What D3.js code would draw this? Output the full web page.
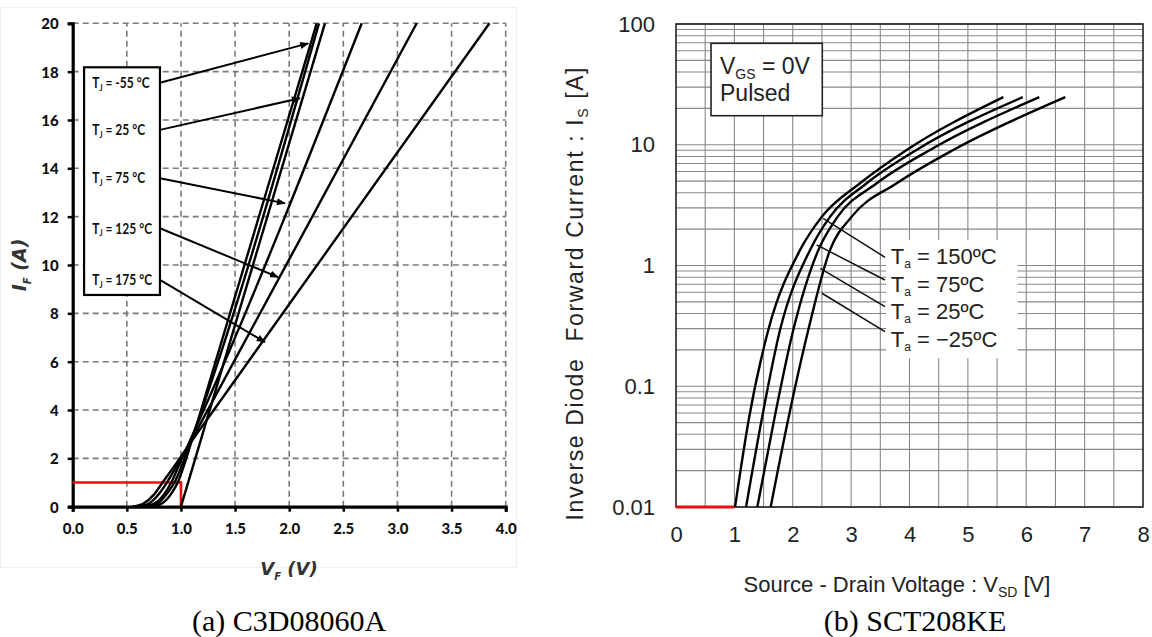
<!DOCTYPE html>
<html>
<head>
<meta charset="utf-8">
<script src="https://cdn.jsdelivr.net/npm/d3@7"></script>
<style>
  body { margin: 0; background: #fff; }
  svg { display: block; }
</style>
</head>
<body>
<svg id="chart" width="1152" height="637"></svg>
<script>
// ---- (a) C3D08060A : forward characteristics, linear axes ----
var vfTicks = [0.0, 0.5, 1.0, 1.5, 2.0, 2.5, 3.0, 3.5, 4.0];
var ifTicks = [0, 2, 4, 6, 8, 10, 12, 14, 16, 18, 20];
var tjLabels = ["-55", "25", "75", "125", "175"];

// [V, A]
var curveTjN55 = [[0.72, 0], [0.82, 0.12], [0.92, 0.6], [0.97, 1.0], [1.02, 1.6], [1.07, 2.3], [1.20, 4.2], [2.254, 20]];
var curveTj25  = [[0.68, 0], [0.78, 0.12], [0.88, 0.6], [0.94, 1.0], [1.00, 1.6], [1.05, 2.2], [1.20, 4.1], [2.275, 20]];
var curveTj75  = [[0.65, 0], [0.75, 0.12], [0.85, 0.55], [0.91, 1.0], [1.00, 1.9], [1.05, 2.4], [1.20, 3.9], [2.67, 20]];
var curveTj125 = [[0.60, 0], [0.70, 0.12], [0.80, 0.55], [0.87, 1.0], [0.95, 1.6], [1.05, 2.35], [1.20, 3.6], [3.178, 20]];
var curveTj175 = [[0.55, 0], [0.65, 0.12], [0.75, 0.5], [0.83, 1.0], [0.95, 1.75], [1.05, 2.4], [1.20, 3.35], [3.85, 20]];
var lineFit    = [[1.00, 0], [2.33, 20]];

// label arrows [fromV, fromA, toV, toA]
var tjArrows = [[0.806, 17.54, 2.176, 19.17], [0.806, 15.59, 2.099, 16.90], [0.806, 13.59, 1.961, 12.55],
                [0.806, 11.52, 1.897, 9.50], [0.806, 9.38, 1.776, 6.81]];
var redMarkA = [[0, 1], [1.0, 1], [1.0, 0]];

// ---- (b) SCT208KE : inverse diode, log current ----
var vsdTicks = [0, 1, 2, 3, 4, 5, 6, 7, 8];
var isTicks = [0.01, 0.1, 1, 10, 100];
var taLabels = ["150", "75", "25", "\u221225"];
var taLabelAt = [1.18, 0.690, 0.414, 0.2415];   // current level of each label line

var curveTa150 = [[1.011, 0.01], [1.251, 0.0546], [1.581, 0.292], [2.124, 1.34], [2.50, 2.54], [3.152, 4.80], [3.952, 9.06], [5.607, 24.8]];
var curveTa75  = [[1.200, 0.01], [1.473, 0.0546], [1.782, 0.292], [2.295, 1.34], [2.64, 2.54], [3.267, 4.80], [4.120, 9.06], [5.940, 24.8]];
var curveTa25  = [[1.393, 0.01], [1.687, 0.0546], [2.009, 0.292], [2.438, 1.34], [2.77, 2.54], [3.438, 4.80], [4.351, 9.06], [6.224, 24.8]];
var curveTaN25 = [[1.622, 0.01], [1.927, 0.0546], [2.266, 0.292], [2.638, 1.34], [3.01, 2.54], [3.781, 4.80], [4.750, 9.06], [6.669, 24.8]];

// leader lines [fromV, fromA, toV, toA]
var taLeaders = [[2.52, 2.46, 3.58, 1.17], [2.41, 1.48, 3.58, 0.759], [2.47, 0.948, 3.58, 0.456], [2.50, 0.589, 3.58, 0.283]];
var redMarkB = [[0, 0.01], [1.0, 0.01]];

var svg = d3.select("#chart");

drawLeft();
drawRight();

function drawLeft() {
  var x = d3.scaleLinear().domain([0, 4]).range([72.7, 505.7]);
  var y = d3.scaleLinear().domain([0, 20]).range([506.7, 23.3]);
  var g = svg.append("g").attr("class", "left");
  var font = "Lato, 'DejaVu Sans', sans-serif";

  // faint panel frame
  g.append("rect")
   .attr("x", 0.5).attr("y", 7.5).attr("width", 516).attr("height", 560)
   .style("fill", "none").style("stroke", "#eeeeee");

  // dashed grid
  g.selectAll(".vgrid")
   .data(vfTicks.slice(1))
   .enter().append("line")
   .attr("x1", function(d) { return x(d); }).attr("x2", function(d) { return x(d); })
   .attr("y1", y(0)).attr("y2", y(20))
   .style("stroke", "#7a7a7a").style("stroke-width", 1.6).style("stroke-dasharray", "6,4");
  g.selectAll(".hgrid")
   .data(ifTicks.slice(1))
   .enter().append("line")
   .attr("x1", x(0)).attr("x2", x(4))
   .attr("y1", function(d) { return y(d); }).attr("y2", function(d) { return y(d); })
   .style("stroke", "#7a7a7a").style("stroke-width", 1.6).style("stroke-dasharray", "6,4");

  // axes
  var xAxis = d3.axisBottom(x).tickValues(vfTicks).tickFormat(d3.format(".1f")).tickSize(5).tickPadding(12);
  var yAxis = d3.axisLeft(y).tickValues(ifTicks).tickSize(5).tickPadding(9);

  var ax = g.append("g").attr("transform", "translate(0," + y(0) + ")").call(xAxis);
  var ay = g.append("g").attr("transform", "translate(" + x(0) + ",0)").call(yAxis);
  [ax, ay].forEach(function(a) {
    a.select(".domain").style("stroke", "#000").style("stroke-width", 3.2);
    a.selectAll(".tick line").style("stroke", "#000").style("stroke-width", 2.5);
    a.selectAll(".tick text")
     .style("font-family", font)
     .style("font-weight", "900").style("font-size", "15px").style("fill", "#111");
  });
  ay.selectAll(".tick text").attr("dy", "0.36em");

  // red annotation
  g.append("path")
   .attr("d", d3.line().x(function(d) { return x(d[0]); }).y(function(d) { return y(d[1]); })(redMarkA))
   .style("fill", "none").style("stroke", "#e8100c").style("stroke-width", 2.6);

  // curves
  var line = d3.line()
               .x(function(d) { return x(d[0]); })
               .y(function(d) { return y(d[1]); })
               .curve(d3.curveMonotoneX);
  var curves = [curveTjN55, curveTj25, curveTj75, curveTj125, curveTj175, lineFit];
  g.selectAll(".curve")
   .data(curves)
   .enter().append("path")
   .attr("d", function(d) { return line(d); })
   .style("fill", "none").style("stroke", "#000").style("stroke-width", 2.4);

  // legend box
  g.append("rect")
   .attr("x", x(0.105)).attr("y", y(18.18))
   .attr("width", x(0.806) - x(0.105)).attr("height", y(8.76) - y(18.18))
   .style("fill", "#fff").style("stroke", "#000").style("stroke-width", 2.2);

  svg.append("defs").append("marker")
     .attr("id", "arrowA")
     .attr("viewBox", "0 0 10 10").attr("refX", 9).attr("refY", 5)
     .attr("markerWidth", 4.5).attr("markerHeight", 4.5).attr("orient", "auto")
     .append("path").attr("d", "M0,1 L10,5 L0,9 Z").style("fill", "#000");

  g.selectAll(".arrow")
   .data(tjArrows)
   .enter().append("line")
   .attr("x1", function(d) { return x(d[0]); }).attr("y1", function(d) { return y(d[1]); })
   .attr("x2", function(d) { return x(d[2]); }).attr("y2", function(d) { return y(d[3]); })
   .attr("marker-end", "url(#arrowA)")
   .style("stroke", "#000").style("stroke-width", 2);

  // legend labels, squeezed like a condensed face
  var lx = x(0.181);
  var lbl = g.selectAll(".tjlabel")
             .data(tjLabels)
             .enter().append("text")
             .attr("x", lx)
             .attr("y", function(d, i) { return y(tjArrows[i][1]); })
             .attr("dy", "0.35em")
             .attr("transform", "translate(" + lx + ",0) scale(0.8,1) translate(" + (-lx) + ",0)")
             .style("font-family", font)
             .style("font-weight", "bold").style("font-size", "15px").style("fill", "#111");
  lbl.append("tspan").text("T");
  lbl.append("tspan").attr("dy", "3").style("font-size", "9px").text("J");
  lbl.append("tspan").attr("dy", "-3").text(function(d) { return " = " + d + " \u00b0C"; });

  // axis titles
  var yt = g.append("text")
            .attr("transform", "translate(26,265) rotate(-90)")
            .attr("text-anchor", "middle")
            .style("font-family", "'DejaVu Sans', sans-serif")
            .style("font-weight", "bold").style("font-style", "italic")
            .style("font-size", "19px").style("fill", "#333");
  yt.append("tspan").text("I");
  yt.append("tspan").attr("dy", "5").style("font-size", "10px").text("F");
  yt.append("tspan").attr("dy", "-5").text(" (A)");

  var xt = g.append("text")
            .attr("x", 289).attr("y", 575)
            .attr("text-anchor", "middle")
            .style("font-family", "'DejaVu Sans', sans-serif")
            .style("font-weight", "bold").style("font-style", "italic")
            .style("font-size", "18px").style("fill", "#333");
  xt.append("tspan").text("V");
  xt.append("tspan").attr("dy", "5").style("font-size", "10px").text("F");
  xt.append("tspan").attr("dy", "-5").text(" (V)");

  svg.append("text")
     .attr("x", 289).attr("y", 631)
     .attr("text-anchor", "middle")
     .style("font-family", "'Liberation Serif', 'Times New Roman', serif")
     .style("font-size", "30px").style("fill", "#000")
     .text("(a) C3D08060A");
}

function drawRight() {
  var x = d3.scaleLinear().domain([0, 8]).range([676, 1143]);
  var y = d3.scaleLog().domain([0.01, 100]).range([507, 24]);
  var g = svg.append("g").attr("class", "right");
  var font = "'Liberation Sans', Arial, sans-serif";

  // grid
  var halfVolts = d3.range(0.5, 8, 0.5);
  g.selectAll(".vgrid")
   .data(halfVolts)
   .enter().append("line")
   .attr("x1", function(d) { return x(d); }).attr("x2", function(d) { return x(d); })
   .attr("y1", y(0.01)).attr("y2", y(100))
   .style("stroke", "#888").style("stroke-width", 1.1);
  g.selectAll(".hgrid")
   .data(y.ticks())
   .enter().append("line")
   .attr("x1", x(0)).attr("x2", x(8))
   .attr("y1", function(d) { return y(d); }).attr("y2", function(d) { return y(d); })
   .style("stroke", "#888").style("stroke-width", 1.1);

  // frame
  g.append("rect")
   .attr("x", x(0)).attr("y", y(100))
   .attr("width", x(8) - x(0)).attr("height", y(0.01) - y(100))
   .style("fill", "none").style("stroke", "#222").style("stroke-width", 1.6);

  // axes (labels only)
  var xAxis = d3.axisBottom(x).tickValues(vsdTicks).tickSize(0).tickPadding(19);
  var yAxis = d3.axisLeft(y).tickValues(isTicks).tickSize(0).tickPadding(21)
                .tickFormat(function(d) { return d >= 1 ? d3.format("d")(d) : String(d); });
  var ax = g.append("g").attr("transform", "translate(0," + y(0.01) + ")").call(xAxis);
  var ay = g.append("g").attr("transform", "translate(" + x(0) + ",0)").call(yAxis);
  [ax, ay].forEach(function(a) {
    a.select(".domain").remove();
    a.selectAll(".tick text")
     .style("font-family", font).style("font-size", "22px").style("fill", "#222");
  });

  // red mark on the bottom axis
  g.append("path")
   .attr("d", d3.line().x(function(d) { return x(d[0]); }).y(function(d) { return y(d[1]); })(redMarkB))
   .style("fill", "none").style("stroke", "#e8100c").style("stroke-width", 3);

  // curves
  var line = d3.line()
               .x(function(d) { return x(d[0]); })
               .y(function(d) { return y(d[1]); })
               .curve(d3.curveMonotoneX);
  g.selectAll(".curve")
   .data([curveTa150, curveTa75, curveTa25, curveTaN25])
   .enter().append("path")
   .attr("d", function(d) { return line(d); })
   .style("fill", "none").style("stroke", "#000").style("stroke-width", 2.4);

  // white patch behind temperature labels
  g.append("rect")
   .attr("x", x(3.6)).attr("y", y(1.63))
   .attr("width", x(5.85) - x(3.6)).attr("height", y(0.171) - y(1.63))
   .style("fill", "#fff");

  g.selectAll(".leader")
   .data(taLeaders)
   .enter().append("line")
   .attr("x1", function(d) { return x(d[0]); }).attr("y1", function(d) { return y(d[1]); })
   .attr("x2", function(d) { return x(d[2]); }).attr("y2", function(d) { return y(d[3]); })
   .style("stroke", "#111").style("stroke-width", 1.5);

  var lbl = g.selectAll(".talabel")
             .data(taLabels)
             .enter().append("text")
             .attr("x", x(3.68))
             .attr("y", function(d, i) { return y(taLabelAt[i]); })
             .attr("dy", "0.33em")
             .style("font-family", font).style("font-size", "22px").style("fill", "#222");
  lbl.append("tspan").text("T");
  lbl.append("tspan").attr("dy", "4").style("font-size", "12px").text("a");
  lbl.append("tspan").attr("dy", "-4").text(function(d) { return " = " + d + "\u00baC"; });

  // condition box
  g.append("rect")
   .attr("x", x(0.60)).attr("y", y(69.2))
   .attr("width", x(2.506) - x(0.60)).attr("height", y(17.4) - y(69.2))
   .style("fill", "#fff").style("stroke", "#222").style("stroke-width", 1.6);
  var c1 = g.append("text")
            .attr("x", x(0.60) + 9).attr("y", y(69.2) + 31)
            .style("font-family", font).style("font-size", "23px").style("fill", "#222");
  c1.append("tspan").text("V");
  c1.append("tspan").attr("dy", "5").style("font-size", "14px").text("GS");
  c1.append("tspan").attr("dy", "-5").text(" = 0V");
  g.append("text")
   .attr("x", x(0.60) + 9).attr("y", y(69.2) + 58)
   .style("font-family", font).style("font-size", "23px").style("fill", "#222")
   .text("Pulsed");

  // axis titles
  var yt = g.append("text")
            .attr("transform", "translate(583,294) rotate(-90)")
            .attr("text-anchor", "middle")
            .attr("textLength", 453).attr("lengthAdjust", "spacing")
            .style("font-family", font).style("font-size", "23px").style("fill", "#222")
            .style("white-space", "pre");
  yt.append("tspan").text("Inverse Diode  Forward Current : I");
  yt.append("tspan").attr("dy", "5").style("font-size", "14px").text("S");
  yt.append("tspan").attr("dy", "-5").text(" [A]");

  var xt = g.append("text")
            .attr("x", 897).attr("y", 592)
            .attr("text-anchor", "middle")
            .style("font-family", font).style("font-size", "22px").style("fill", "#222");
  xt.append("tspan").text("Source - Drain Voltage : V");
  xt.append("tspan").attr("dy", "5").style("font-size", "14px").text("SD");
  xt.append("tspan").attr("dy", "-5").text(" [V]");

  svg.append("text")
     .attr("x", 915).attr("y", 631)
     .attr("text-anchor", "middle")
     .style("font-family", "'Liberation Serif', 'Times New Roman', serif")
     .style("font-size", "30px").style("fill", "#000")
     .text("(b) SCT208KE");
}
</script>
</body>
</html>
